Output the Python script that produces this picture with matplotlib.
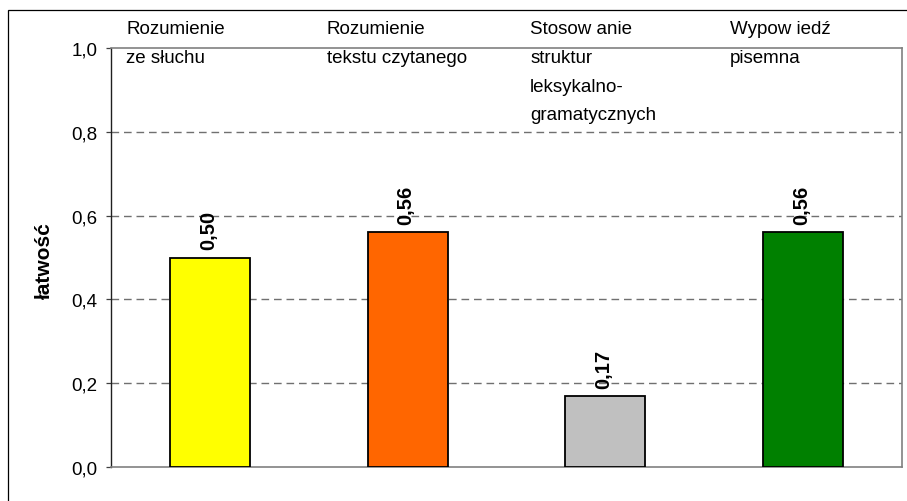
import matplotlib
matplotlib.use("Agg")
import matplotlib.pyplot as plt
from matplotlib.patches import Rectangle

categories = ["Rozumienie\nze słuchu", "Rozumienie\ntekstu czytanego",
              "Stosow anie\nstruktur\nleksykalno-\ngramatycznych", "Wypow iedź\npisemna"]
values = [0.50, 0.56, 0.17, 0.56]
value_labels = ["0,50", "0,56", "0,17", "0,56"]
yticks = [0.0, 0.2, 0.4, 0.6, 0.8, 1.0]
ytick_labels = ["0,0", "0,2", "0,4", "0,6", "0,8", "1,0"]
ylabel = "łatwość"

colors = ["#FFFF00", "#FF6600", "#C0C0C0", "#008000"]
label_dx = [-0.424, -0.408, -0.381, -0.369]

plt.rcParams['font.family'] = ['Liberation Sans', 'DejaVu Sans']
FS = 13.5

fig = plt.figure(figsize=(9.07, 5.02), dpi=100)
W, H = 907, 502
# outer border
fig.patches.append(Rectangle((8 / W, -0.05), 1.0, (H - 11) / H + 0.05,
                             transform=fig.transFigure, fill=False,
                             edgecolor="black", linewidth=0.9))

ax = fig.add_axes([111 / W, (H - 468) / H, 791 / W, 419 / H])
x = list(range(len(values)))
ax.bar(x, values, width=0.405, color=colors, edgecolor="black", linewidth=1.3, zorder=3)
ax.set_xlim(-0.5, len(values) - 0.5)
ax.set_ylim(0, 1.0)
ax.set_yticks(yticks)
ax.set_yticklabels(ytick_labels, fontsize=FS)
ax.set_xticks([])
ax.tick_params(axis='y', direction='out', length=3.6, width=0.9, color='#404040', pad=6)
for yv in yticks[1:-1]:
    ax.axhline(yv, color="#707070", linewidth=1.0, linestyle=(0, (5.5, 3.5)), zorder=1)
for side in ["top", "right", "bottom"]:
    ax.spines[side].set_color("#808080")
    ax.spines[side].set_linewidth(1.2)
ax.spines["left"].set_color("#202020")
ax.spines["left"].set_linewidth(1.0)

ax.set_ylabel(ylabel, fontsize=15, fontweight='bold')
ax.yaxis.set_label_coords(-(111 - 54) / 791, (468 - 261) / 419)

for xi, v, lab in zip(x, values, value_labels):
    ax.text(xi - 0.008, v + 8 / 419, lab, rotation=90, ha='center', va='bottom',
            fontsize=14.5, fontweight='bold', zorder=4)

base_y = (468 - 34.5) / 419
step = 28.6 / 419
for xi, cat, dx in zip(x, categories, label_dx):
    for k, line in enumerate(cat.split("\n")):
        ax.text(xi + dx, base_y - k * step, line, ha='left', va='baseline',
                fontsize=FS, clip_on=False, zorder=5)

fig.savefig("out.png", dpi=100)
